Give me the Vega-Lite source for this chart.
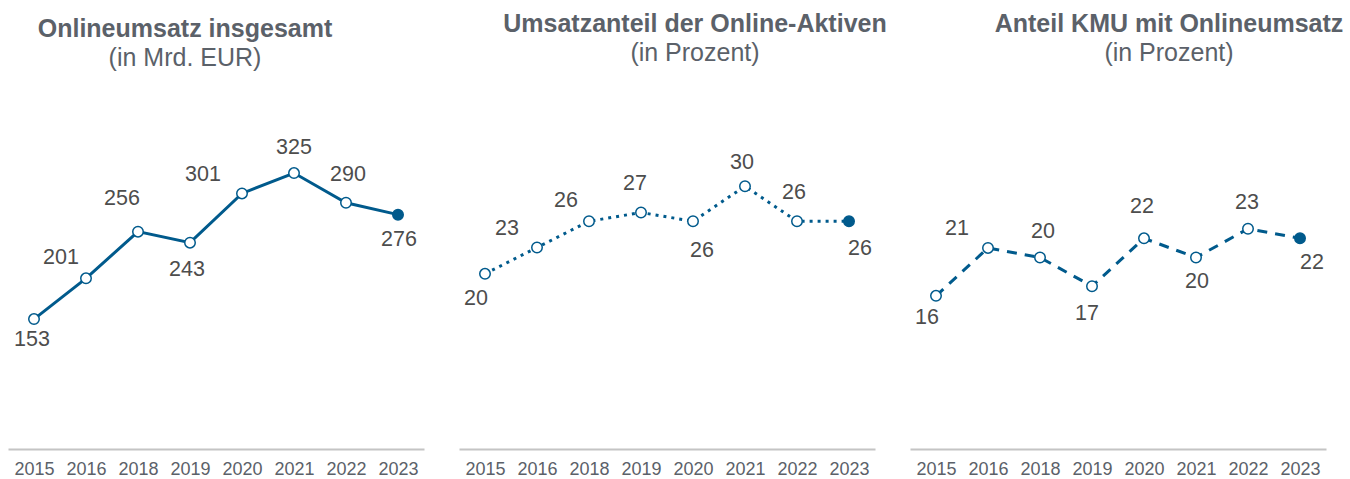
{
  "$schema": "https://vega.github.io/schema/vega-lite/v6.json",
  "background": "white",
  "padding": {"left": 8, "top": 11, "right": 5, "bottom": 0},
  "spacing": 35,
  "bounds": "flush",
  "datasets": {
    "umsatz": [
      {"Jahr": "2015", "Wert": 153}, {"Jahr": "2016", "Wert": 201}, {"Jahr": "2018", "Wert": 256}, {"Jahr": "2019", "Wert": 243},
      {"Jahr": "2020", "Wert": 301}, {"Jahr": "2021", "Wert": 325}, {"Jahr": "2022", "Wert": 290}, {"Jahr": "2023", "Wert": 276}
    ],
    "anteil": [
      {"Jahr": "2015", "Wert": 20}, {"Jahr": "2016", "Wert": 23}, {"Jahr": "2018", "Wert": 26}, {"Jahr": "2019", "Wert": 27},
      {"Jahr": "2020", "Wert": 26}, {"Jahr": "2021", "Wert": 30}, {"Jahr": "2022", "Wert": 26}, {"Jahr": "2023", "Wert": 26}
    ],
    "kmu": [
      {"Jahr": "2015", "Wert": 16}, {"Jahr": "2016", "Wert": 21}, {"Jahr": "2018", "Wert": 20}, {"Jahr": "2019", "Wert": 17},
      {"Jahr": "2020", "Wert": 22}, {"Jahr": "2021", "Wert": 20}, {"Jahr": "2022", "Wert": 23}, {"Jahr": "2023", "Wert": 22}
    ]
  },
  "config": {
    "view": {"stroke": null},
    "font": "Liberation Sans",
    "title": {"font": "Liberation Sans", "fontSize": 25, "fontWeight": "bold", "color": "#5b6169", "subtitleFont": "Liberation Sans", "subtitleFontSize": 25, "subtitleColor": "#5b6169", "subtitlePadding": 4, "anchor": "middle", "offset": 23.5},
    "axisX": {"title": null, "ticks": false, "grid": false, "domainColor": "#c4c4c4", "domainWidth": 2, "labelFont": "Liberation Sans", "labelFontSize": 18, "labelColor": "#5b6169", "labelPadding": 11, "labelAngle": 0}
  },
  "hconcat": [
    {
      "width": 416, "height": 360,
      "title": {"text": "Onlineumsatz insgesamt", "subtitle": "(in Mrd. EUR)", "dx": -31, "offset": 18.5},
      "data": {"name": "umsatz"},
      "encoding": {
        "x": {"field": "Jahr", "type": "ordinal", "scale": {"type": "point", "padding": 0.5}},
        "y": {"field": "Wert", "type": "quantitative", "scale": {"domain": [0, 424], "nice": false, "zero": true}, "axis": null}
      },
      "layer": [
        {"mark": {"type": "line", "color": "#005a8c", "strokeWidth": 3}},
        {"mark": {"type": "point", "shape": "circle", "size": 110, "stroke": "#005a8c", "strokeWidth": 1.5, "opacity": 1},
         "encoding": {"fill": {"condition": {"test": "datum.Jahr == '2023'", "value": "#005a8c"}, "value": "white"}}},
        {"mark": {"type": "text", "fontSize": 21.5, "color": "#4d4d4d", "align": "center", "baseline": "middle",
                  "dx": {"expr": "[-2, -25, -16, -3, -39, 0, 2, 1][indexof(['2015','2016','2018','2019','2020','2021','2022','2023'], datum.Jahr)]"},
                  "dy": {"expr": "[21, -20, -33, 27, -18, -25, -28, 25][indexof(['2015','2016','2018','2019','2020','2021','2022','2023'], datum.Jahr)]"}},
         "encoding": {"text": {"field": "Wert", "type": "quantitative", "format": "d"}}}
      ]
    },
    {
      "width": 416, "height": 360,
      "title": {"text": "Umsatzanteil der Online-Aktiven", "subtitle": "(in Prozent)", "dx": 28},
      "data": {"name": "anteil"},
      "encoding": {
        "x": {"field": "Jahr", "type": "ordinal", "scale": {"type": "point", "padding": 0.5}},
        "y": {"field": "Wert", "type": "quantitative", "scale": {"domain": [0, 41.1], "nice": false, "zero": true}, "axis": null}
      },
      "layer": [
        {"mark": {"type": "line", "color": "#005a8c", "strokeWidth": 3, "strokeDash": [3, 5]}},
        {"mark": {"type": "point", "shape": "circle", "size": 110, "stroke": "#005a8c", "strokeWidth": 1.5, "opacity": 1},
         "encoding": {"fill": {"condition": {"test": "datum.Jahr == '2023'", "value": "#005a8c"}, "value": "white"}}},
        {"mark": {"type": "text", "fontSize": 21.5, "color": "#4d4d4d", "align": "center", "baseline": "middle",
                  "dx": {"expr": "[-9, -30, -23, -6, 9, -3, -3, 11][indexof(['2015','2016','2018','2019','2020','2021','2022','2023'], datum.Jahr)]"},
                  "dy": {"expr": "[25, -19, -20, -29, 30, -23, -28, 28][indexof(['2015','2016','2018','2019','2020','2021','2022','2023'], datum.Jahr)]"}},
         "encoding": {"text": {"field": "Wert", "type": "quantitative", "format": "d"}}}
      ]
    },
    {
      "width": 416, "height": 360,
      "title": {"text": "Anteil KMU mit Onlineumsatz", "subtitle": "(in Prozent)", "dx": 51},
      "data": {"name": "kmu"},
      "encoding": {
        "x": {"field": "Jahr", "type": "ordinal", "scale": {"type": "point", "padding": 0.5}},
        "y": {"field": "Wert", "type": "quantitative", "scale": {"domain": [0, 37.6], "nice": false, "zero": true}, "axis": null}
      },
      "layer": [
        {"mark": {"type": "line", "color": "#005a8c", "strokeWidth": 3, "strokeDash": [10, 8]}},
        {"mark": {"type": "point", "shape": "circle", "size": 110, "stroke": "#005a8c", "strokeWidth": 1.5, "opacity": 1},
         "encoding": {"fill": {"condition": {"test": "datum.Jahr == '2023'", "value": "#005a8c"}, "value": "white"}}},
        {"mark": {"type": "text", "fontSize": 21.5, "color": "#4d4d4d", "align": "center", "baseline": "middle",
                  "dx": {"expr": "[-9, -31, 3, -5, -2, 1, -1, 12][indexof(['2015','2016','2018','2019','2020','2021','2022','2023'], datum.Jahr)]"},
                  "dy": {"expr": "[22, -19, -26, 28, -31, 24, -26, 25][indexof(['2015','2016','2018','2019','2020','2021','2022','2023'], datum.Jahr)]"}},
         "encoding": {"text": {"field": "Wert", "type": "quantitative", "format": "d"}}}
      ]
    }
  ]
}
